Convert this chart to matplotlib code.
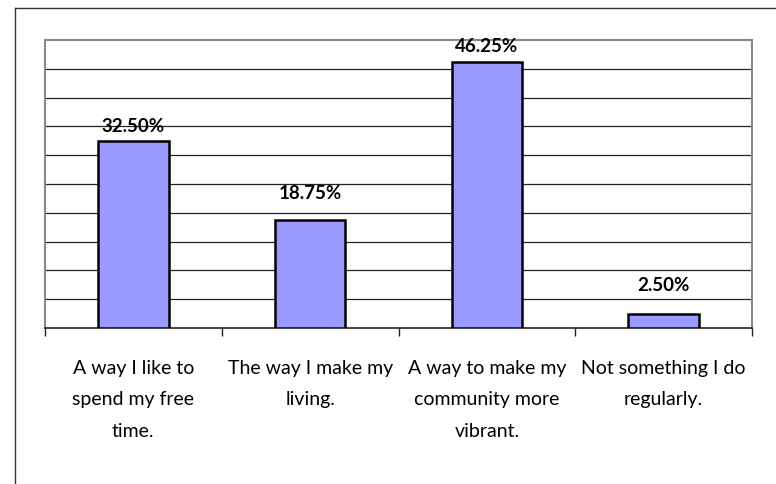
import matplotlib
matplotlib.use("Agg")
import matplotlib.pyplot as plt
from matplotlib.lines import Line2D

categories = ["A way I like to\nspend my free\ntime.",
              "The way I make my\nliving.",
              "A way to make my\ncommunity more\nvibrant.",
              "Not something I do\nregularly."]
values = [32.50, 18.75, 46.25, 2.50]
value_labels = ["32.50%", "18.75%", "46.25%", "2.50%"]
label_gap_pts = [4, 13, 5, 14]

plt.rcParams['font.family'] = ['Lato', 'DejaVu Sans']

W, H = 776, 484
fig = plt.figure(figsize=(W / 100, H / 100), dpi=100)

# outer frame: only top and left edges are visible
bx, by = 14.5 / W, 1 - 8 / H
fig.lines.append(Line2D([bx, 1.0], [by, by], transform=fig.transFigure,
                        color='#333333', linewidth=1.0))
fig.lines.append(Line2D([bx, bx], [0.0, by], transform=fig.transFigure,
                        color='#333333', linewidth=1.0))

left, right, top, bottom = 45, 752, 40, 328
ax = fig.add_axes([left / W, 1 - bottom / H, (right - left) / W, (bottom - top) / H])

x = list(range(len(values)))
ax.bar(x, values, width=0.4, color='#9999FF', edgecolor='black', linewidth=1.8, zorder=3)
ax.set_xlim(-0.5, len(values) - 0.5)
ax.set_ylim(0, 50)

for yv in range(5, 50, 5):
    ax.axhline(yv, color='#222222', linewidth=0.9, zorder=1)

for i, (v, lab) in enumerate(zip(values, value_labels)):
    ax.annotate(lab, (i, v), xytext=(0, label_gap_pts[i]), textcoords='offset points',
                ha='center', va='bottom', fontsize=13.5, fontweight='bold', color='black')

ax.set_yticks([])
ax.set_xticks([i - 0.5 for i in range(len(values) + 1)], minor=False)
ax.set_xticklabels([])
ax.tick_params(axis='x', direction='out', length=6, width=1, color='#222222')

for i, c in enumerate(categories):
    ax.text(i, -0.11, c, transform=ax.get_xaxis_transform(), ha='center', va='top',
            fontsize=14, linespacing=2.05, color='black')

ax.spines['left'].set_color('#888888')
ax.spines['left'].set_linewidth(1.5)
ax.spines['right'].set_color('#888888')
ax.spines['right'].set_linewidth(1.5)
ax.spines['top'].set_color('#888888')
ax.spines['top'].set_linewidth(1.5)
ax.spines['bottom'].set_color('#222222')
ax.spines['bottom'].set_linewidth(1.2)

fig.savefig("out.png", dpi=100)
